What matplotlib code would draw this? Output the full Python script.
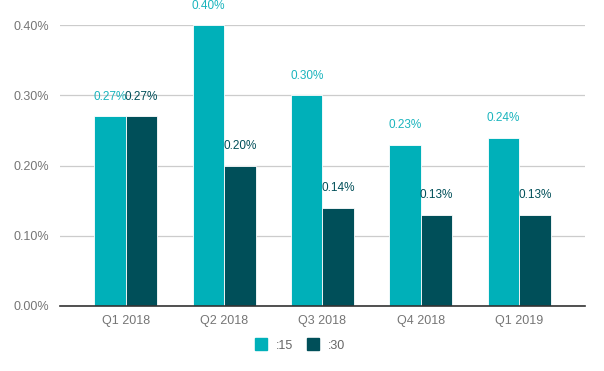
import numpy as np
import matplotlib.pyplot as plt
from matplotlib.lines import Line2D

plt.rcParams['font.family'] = ['Liberation Sans', 'DejaVu Sans']

quarters = ['Q1 2018', 'Q2 2018', 'Q3 2018', 'Q4 2018', 'Q1 2019']
s15 = [0.27, 0.40, 0.30, 0.23, 0.24]
s30 = [0.27, 0.20, 0.14, 0.13, 0.13]
c15 = '#00b0b9'
c30 = '#004f59'

fig = plt.figure(figsize=(6.04, 3.71), dpi=100)
ax = fig.add_axes([0.0993, 0.1765, 0.8692, 0.7548])

x = np.arange(len(quarters))
w = 0.32
b1 = ax.bar(x - w / 2, s15, w, color=c15, edgecolor='white', linewidth=0.6, zorder=3)
b2 = ax.bar(x + w / 2, s30, w, color=c30, edgecolor='white', linewidth=0.6, zorder=3)

for bars, vals, col in [(b1, s15, '#1ab4bd'), (b2, s30, c30)]:
    for r, v in zip(bars, vals):
        ax.annotate(f'{v:.2f}%', (r.get_x() + r.get_width() / 2, v),
                    xytext=(0, 10), textcoords='offset points',
                    ha='center', va='bottom', fontsize=8.5, color=col,
                    annotation_clip=False)

ax.set_xlim(-0.67, 4.67)
ax.set_ylim(0, 0.4)
ax.set_yticks([0, 0.1, 0.2, 0.3, 0.4])
ax.set_yticklabels([f'{t:.2f}%' for t in [0, 0.1, 0.2, 0.3, 0.4]])
ax.set_xticks(x)
ax.set_xticklabels(quarters)
ax.tick_params(axis='both', length=0, labelsize=9, colors='#757575')
ax.tick_params(axis='y', pad=8)
ax.tick_params(axis='x', pad=7)
ax.grid(axis='y', color='#cccccc', linewidth=0.9, zorder=0)
for s in ['top', 'right', 'left']:
    ax.spines[s].set_visible(False)
ax.spines['bottom'].set_color('#333333')
ax.spines['bottom'].set_linewidth(1.2)
ax.spines['bottom'].set_zorder(4)

handles = [Line2D([], [], marker='s', linestyle='', markersize=8.6, color=c15),
           Line2D([], [], marker='s', linestyle='', markersize=8.6, color=c30)]
fig.legend(handles, [':15', ':30'], loc='center', bbox_to_anchor=(0.497, 0.068),
           ncol=2, frameon=False, fontsize=9, labelcolor='#666666',
           handletextpad=0.7, columnspacing=1.1, handlelength=1.0)

fig.savefig('out.png', dpi=100)
